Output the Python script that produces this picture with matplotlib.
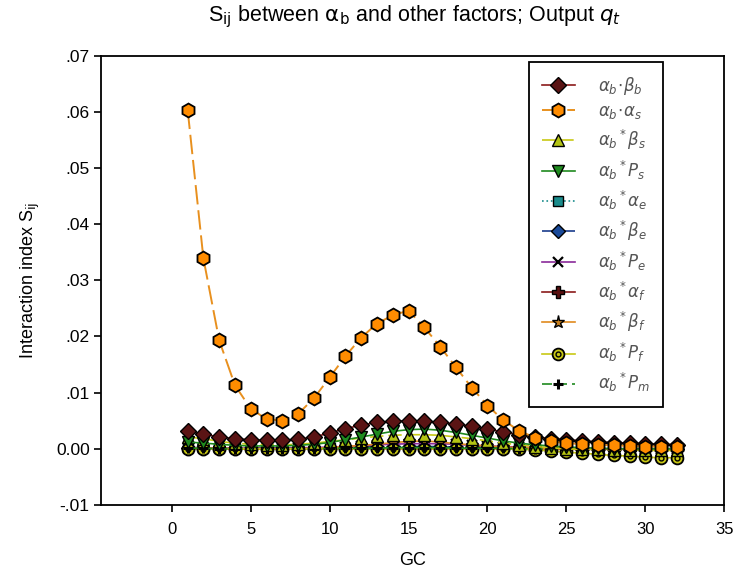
import numpy as np
import matplotlib
matplotlib.use("Agg")
import matplotlib.pyplot as plt

plt.rcParams['font.family'] = ['Liberation Sans', 'DejaVu Sans']
plt.rcParams['mathtext.fontset'] = 'dejavusans'

# GC values
gc = list(range(1, 33))

# interaction index for each factor pair
beta_b = [0.0031, 0.0026, 0.0021, 0.0018, 0.0016, 0.0015, 0.0015, 0.0017, 0.0021, 0.0028,
          0.0036, 0.0042, 0.0047, 0.0049, 0.0050, 0.0049, 0.0047, 0.0044, 0.0040, 0.0035,
          0.0030, 0.0025, 0.0021, 0.0018, 0.0016, 0.0014, 0.0012, 0.0011, 0.0010, 0.0009,
          0.0008, 0.0007]
alpha_s = [0.0604, 0.0339, 0.0193, 0.0113, 0.0071, 0.0053, 0.0050, 0.0062, 0.0090, 0.0127,
           0.0165, 0.0198, 0.0223, 0.0238, 0.0246, 0.0216, 0.0182, 0.0145, 0.0109, 0.0077,
           0.0051, 0.0032, 0.0020, 0.0013, 0.0010, 0.0008, 0.0007, 0.0006, 0.0005, 0.0004,
           0.0004, 0.0004]
beta_s = [0.0021, 0.0018, 0.0013, 0.0010, 0.0008, 0.0007, 0.0007, 0.0008, 0.0010, 0.0013,
          0.0016, 0.0019, 0.0022, 0.0024, 0.0025, 0.0025, 0.0024, 0.0021, 0.0018, 0.0014,
          0.0010, 0.0007, 0.0004, 0.0002, 0.0000, -0.0001, -0.0001, -0.0002, -0.0002, -0.0003,
          -0.0003, -0.0003]
p_s = [0.0012, 0.0010, 0.0008, 0.0006, 0.0005, 0.0005, 0.0005, 0.0006, 0.0008, 0.0011,
       0.0016, 0.0021, 0.0026, 0.0031, 0.0034, 0.0035, 0.0033, 0.0029, 0.0024, 0.0019,
       0.0014, 0.0010, 0.0007, 0.0005, 0.0003, 0.0002, 0.0001, 0.0000, 0.0000, 0.0000,
       0.0000, 0.0000]
alpha_e = [0.0001, 0.0001, 0.0001, 0.0001, 0.0001, 0.0001, 0.0001, 0.0001, 0.0001, 0.0002,
           0.0002, 0.0002, 0.0003, 0.0003, 0.0003, 0.0003, 0.0003, 0.0003, 0.0002, 0.0002,
           0.0002, 0.0001, 0.0001, 0.0001, 0.0000, 0.0000, 0.0000, 0.0000, 0.0000, 0.0000,
           0.0000, 0.0000]
beta_e = [0.0002, 0.0002, 0.0001, 0.0001, 0.0001, 0.0001, 0.0001, 0.0001, 0.0002, 0.0002,
          0.0003, 0.0003, 0.0004, 0.0004, 0.0004, 0.0004, 0.0004, 0.0003, 0.0003, 0.0002,
          0.0002, 0.0001, 0.0001, 0.0001, 0.0001, 0.0000, 0.0000, 0.0000, 0.0000, 0.0000,
          0.0000, 0.0000]
p_e = [0.0002, 0.0002, 0.0001, 0.0001, 0.0001, 0.0001, 0.0001, 0.0002, 0.0002, 0.0003,
       0.0004, 0.0005, 0.0007, 0.0008, 0.0009, 0.0009, 0.0009, 0.0008, 0.0006, 0.0005,
       0.0004, 0.0003, 0.0002, 0.0001, 0.0001, 0.0000, 0.0000, 0.0000, 0.0000, 0.0000,
       0.0000, 0.0000]
alpha_f = [0.0000, 0.0000, 0.0000, 0.0000, 0.0000, 0.0000, 0.0000, 0.0000, 0.0000, 0.0000,
           0.0000, 0.0000, 0.0000, 0.0000, 0.0000, 0.0000, 0.0000, 0.0000, 0.0000, 0.0000,
           0.0000, 0.0000, 0.0000, 0.0000, -0.0001, -0.0001, -0.0001, -0.0001, -0.0001, -0.0001,
           -0.0001, -0.0001]
beta_f = [0.0001, 0.0001, 0.0001, 0.0000, 0.0000, 0.0000, 0.0000, 0.0000, 0.0001, 0.0002,
          0.0004, 0.0006, 0.0008, 0.0011, 0.0013, 0.0014, 0.0012, 0.0009, 0.0007, 0.0005,
          0.0003, 0.0002, 0.0001, 0.0000, 0.0000, 0.0000, 0.0000, 0.0000, 0.0000, 0.0000,
          0.0000, 0.0000]
p_f = [0.0000, 0.0000, 0.0000, 0.0000, 0.0000, 0.0000, 0.0000, 0.0000, 0.0000, 0.0000,
       0.0000, 0.0000, 0.0000, 0.0000, 0.0000, 0.0000, 0.0000, 0.0000, 0.0000, 0.0000,
       0.0000, -0.0001, -0.0002, -0.0004, -0.0006, -0.0008, -0.0010, -0.0012, -0.0013, -0.0015,
       -0.0016, -0.0016]
p_m = [0.0001, 0.0001, 0.0000, 0.0000, 0.0000, 0.0000, 0.0000, 0.0000, 0.0000, 0.0001,
       0.0001, 0.0001, 0.0001, 0.0002, 0.0002, 0.0002, 0.0002, 0.0001, 0.0001, 0.0001,
       0.0001, 0.0000, 0.0000, 0.0000, 0.0000, 0.0000, 0.0000, 0.0000, 0.0000, 0.0000,
       0.0000, 0.0000]

labels = [r'$\alpha_b\!\cdot\!\beta_b$', r'$\alpha_b\!\cdot\!\alpha_s$',
          r'$\alpha_b{}^*\beta_s$', r'$\alpha_b{}^*P_s$', r'$\alpha_b{}^*\alpha_e$',
          r'$\alpha_b{}^*\beta_e$', r'$\alpha_b{}^*P_e$', r'$\alpha_b{}^*\alpha_f$',
          r'$\alpha_b{}^*\beta_f$', r'$\alpha_b{}^*P_f$', r'$\alpha_b{}^*P_m$']

fig = plt.figure(figsize=(7.36, 5.81), dpi=100)
ax = fig.add_axes([0.137, 0.131, 0.847, 0.773])

ms = 8.5
lw = 1.2

# flat series first, then the larger ones on top
h_ae, = ax.plot(gc, alpha_e, color='#1a8c8c', ls=':', lw=lw, marker='s', ms=ms - 1,
                mfc='#1a8c8c', mec='black', mew=1.0, zorder=2)
h_be, = ax.plot(gc, beta_e, color='#1a3c8c', ls=(0, (8, 4)), lw=lw, marker='D', ms=ms - 1,
                mfc='#1a4a9a', mec='black', mew=1.0, zorder=2)
h_pe, = ax.plot(gc, p_e, color='#8a2a9a', ls='-', lw=lw, marker='x', ms=ms - 1,
                mec='black', mew=1.6, zorder=2)
h_af, = ax.plot(gc, alpha_f, color='#8b1a1a', ls='-', lw=lw, marker='P', ms=ms,
                mfc='#5a0f0f', mec='black', mew=1.0, zorder=2)
h_bf, = ax.plot(gc, beta_f, color='#e08a1e', ls='-', lw=lw, marker='*', ms=ms + 1,
                mfc='#c8801e', mec='black', mew=1.0, zorder=2)
h_pf, = ax.plot(gc, p_f, color='#c8c814', ls='-', lw=lw, marker='o', ms=ms,
                mfc='#c8c814', mec='black', mew=1.3, zorder=3)
h_pf2, = ax.plot(gc, p_f, ls='none', marker='o', ms=3.5, mfc='none', mec='black', mew=1.0,
                 zorder=3)
h_pm, = ax.plot(gc, p_m, color='#1f8a1f', ls=(0, (6, 3)), lw=lw, marker='+', ms=7,
                mec='black', mew=2.2, zorder=3)
h_bs, = ax.plot(gc, beta_s, color='#c8c814', ls=(0, (8, 3)), lw=lw, marker='^', ms=ms,
                mfc='#b4c414', mec='black', mew=1.0, zorder=4)
h_ps, = ax.plot(gc, p_s, color='#1f8a1f', ls='-', lw=lw, marker='v', ms=ms,
                mfc='#1f8a1f', mec='black', mew=1.0, zorder=4)
h_bb, = ax.plot(gc, beta_b, color='#8b1a1a', ls='-', lw=lw, marker='D', ms=ms,
                mfc='#5a1414', mec='black', mew=1.0, zorder=4)
h_as, = ax.plot(gc, alpha_s, color='#e8901e', ls=(0, (10, 3)), lw=lw + 0.2, marker='h',
                ms=ms + 1.5, mfc='#ff8c00', mec='black', mew=1.3, zorder=5)

handles = [h_bb, h_as, h_bs, h_ps, h_ae, h_be, h_pe, h_af, h_bf, (h_pf, h_pf2), h_pm]

leg = ax.legend(handles, labels, loc='upper left', bbox_to_anchor=(0.687, 0.986),
                borderaxespad=0, fontsize=12, labelspacing=0.42, handlelength=2.0,
                handletextpad=1.4, borderpad=0.75, fancybox=False, framealpha=1,
                edgecolor='black')
leg.get_frame().set_linewidth(1.3)
for t in leg.get_texts():
    t.set_color('#555555')

ax.set_xlim(-4.5, 35)
ax.set_ylim(-0.01, 0.07)
ax.set_xticks(np.arange(0, 36, 5))
yt = np.arange(-0.01, 0.0701, 0.01)
ax.set_yticks(yt)
ax.set_yticklabels(['-.01', '0.00', '.01', '.02', '.03', '.04', '.05', '.06', '.07'])
ax.tick_params(direction='out', length=5, width=1.2, labelsize=12.5, pad=3)
ax.tick_params(axis='x', pad=7, labelsize=12)
for s in ax.spines.values():
    s.set_linewidth(1.3)

ax.set_xlabel('GC', fontsize=13, labelpad=11)
ax.set_ylabel(r'Interaction index S$_{\mathrm{ij}}$', fontsize=13, labelpad=10)
fig.text(0.5635, 1 - 17 / 581,
         r'S$_{\mathrm{ij}}$ between $\mathrm{\alpha_b}$ and other factors; Output $q_t$',
         fontsize=15.5, ha='center', va='center')

fig.savefig('out.png', dpi=100)
